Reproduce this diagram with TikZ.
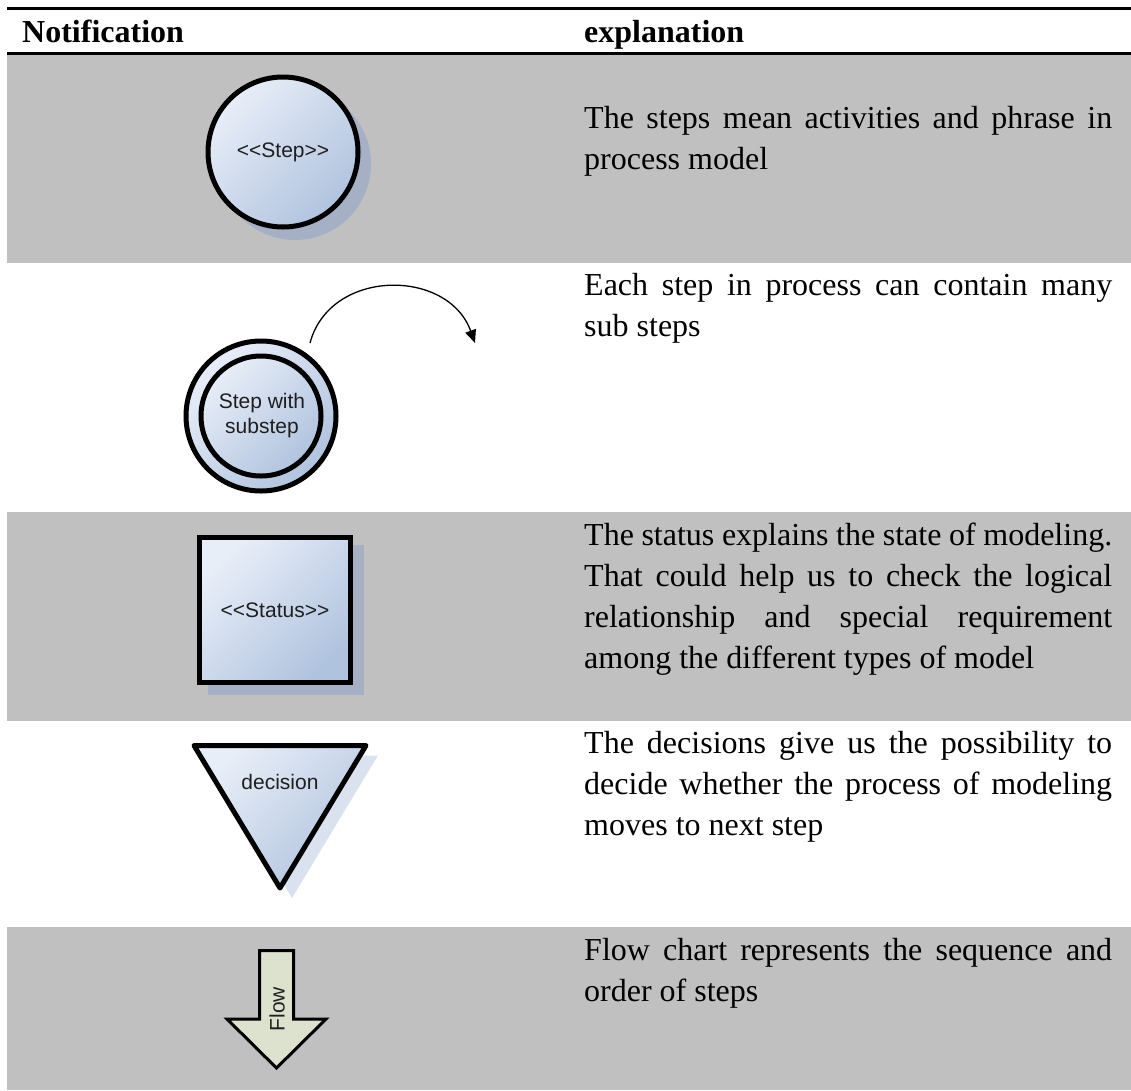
\documentclass[tikz,border=0pt]{standalone}
\usepackage{fontspec}
\setmainfont{Liberation Serif}
\newfontfamily\shapefont{Liberation Sans}
\usetikzlibrary{arrows.meta}

\definecolor{rowgray}{RGB}{192,192,192}
\definecolor{fillA}{RGB}{232,238,248}
\definecolor{fillB}{RGB}{176,195,222}
\definecolor{shadowDark}{RGB}{166,176,196}
\definecolor{shadowLight}{RGB}{218,226,240}
\definecolor{flowfill}{RGB}{221,226,207}

% a justified line of the explanation column
\newcommand{\jl}[1]{\makebox[528pt][s]{#1}}

\begin{document}
\begin{tikzpicture}[x=1pt,y=-1pt,
  row/.style={fill=rowgray, draw=none},
  rule/.style={line width=3pt},
  body/.style={font=\fontsize{32}{41}\selectfont, inner sep=0pt, anchor=base west},
  head/.style={font=\fontsize{32}{41}\selectfont\bfseries, inner sep=0pt, anchor=base west},
  glossy/.style={top color=fillA, bottom color=fillB, shading angle=45},
  outline/.style={draw=black, line width=5pt},
  shapelabel/.style={font=\shapefont\fontsize{21}{25}\selectfont, text=black!88, inner sep=0pt, align=center},
]
\useasboundingbox (0,0) rectangle (1131,1090);

% shaded table rows
\fill[row] (7,55) rectangle (1131,263);
\fill[row] (7,512) rectangle (1131,721);
\fill[row] (7,927) rectangle (1131,1090);

% header rules
\draw[rule] (7,8.5) -- (1131,8.5);
\draw[rule] (7,53.5) -- (1131,53.5);

% header
\node[head] (hnote) at (22,42) {Notification};
\node[head] (hexpl) at (584,42) {explanation};

% ---- step ----
\fill[shadowDark] (295,164) circle (76pt);
\node[circle, minimum size=150pt, inner sep=0pt, glossy, outline] (step) at (283,152) {};
\node[shapelabel] (steplabel) at (step.center) {<\kern0pt<Step>\kern0pt>};

% ---- step with substep ----
\node[circle, minimum size=150pt, inner sep=0pt, glossy, outline] (subouter) at (261,416) {};
\node[circle, minimum size=120pt, inner sep=0pt, glossy, outline] (subinner) at (261,416) {};
\node[shapelabel] (sublabel) at (262,416) {Step with\\substep};
\coordinate (arcfrom) at (310,343);
\coordinate (arcto) at (475,343);
\draw[line width=1.3pt, -{Triangle[length=13pt,width=11pt]}]
  (arcfrom) .. controls (330,268) and (448,268) .. (arcto);

% ---- status ----
\fill[shadowDark] (208,545) rectangle (364,695);
\node[rectangle, minimum width=151pt, minimum height=145pt, inner sep=0pt, glossy, outline] (status) at (275,610) {};
\node[shapelabel] (statuslabel) at (status.center) {<\kern0pt<Status>\kern0pt>};

% ---- decision ----
\fill[shadowLight] (206,755.5) -- (378,755.5) -- (292,898) -- cycle;
\coordinate (dl) at (194,745.5);
\coordinate (dr) at (366,745.5);
\coordinate (dt) at (280,888);
\path[glossy] (dl) -- (dr) -- (dt) -- cycle;
\draw[line width=5pt, line join=round] (dl) -- (dr) -- (dt) -- cycle;
\node[shapelabel] (decision) at (280,782) {decision};

% ---- flow ----
\draw[fill=flowfill, line width=3pt, line join=miter]
  (259.5,950.5) -- (293.5,950.5) -- (293.5,1019) -- (326,1019)
  -- (276.5,1068) -- (227,1019) -- (259.5,1019) -- cycle;
\node[shapelabel, rotate=90] (flow) at (277,1009) {Flow};

% ---- explanation column ----
\node[body] (t1a) at (584,128) {\jl{The steps mean activities and phrase in}};
\node[body] (t1b) at (584,169) {process model};

\node[body] (t2a) at (584,295) {\jl{Each step in process can contain many}};
\node[body] (t2b) at (584,336) {sub steps};

\node[body] (t3a) at (584,545) {\jl{The status explains the state of modeling.}};
\node[body] (t3b) at (584,586) {\jl{That could help us to check the logical}};
\node[body] (t3c) at (584,627) {\jl{relationship and special requirement}};
\node[body] (t3d) at (584,668) {among the different types of model};

\node[body] (t4a) at (584,753) {\jl{The decisions give us the possibility to}};
\node[body] (t4b) at (584,794) {\jl{decide whether the process of modeling}};
\node[body] (t4c) at (584,835) {moves to next step};

\node[body] (t5a) at (584,960) {\jl{Flow chart represents the sequence and}};
\node[body] (t5b) at (584,1001) {order of steps};
\end{tikzpicture}
\end{document}
